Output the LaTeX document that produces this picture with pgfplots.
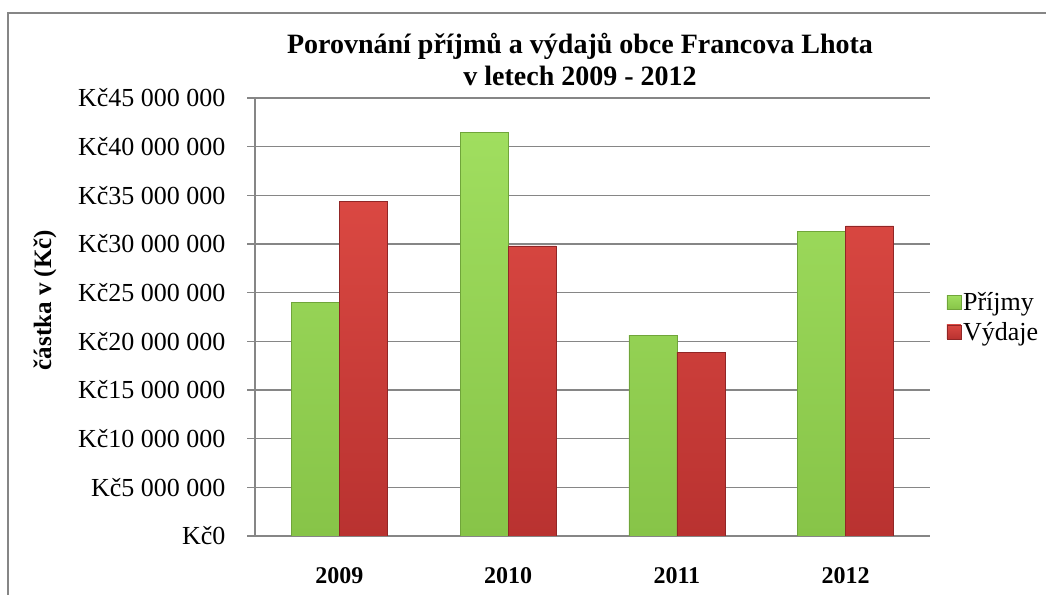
\documentclass[border=0pt]{standalone}
\usepackage{fontspec}
\setmainfont{Liberation Serif}
\usepackage{pgfplots}
\pgfplotsset{compat=1.18}
\definecolor{gridgray}{RGB}{134,134,134}
\definecolor{grnT}{RGB}{160,222,95}
\definecolor{grnB}{RGB}{135,196,72}
\definecolor{grnE}{RGB}{112,165,58}
\definecolor{redT}{RGB}{218,72,66}
\definecolor{redB}{RGB}{185,50,48}
\definecolor{redE}{RGB}{145,38,38}
\begin{document}
\begin{tikzpicture}[x=1pt,y=1pt]
\useasboundingbox (0,0) rectangle (1046,594);
\clip (0,0) rectangle (1046,594);
\draw[gridgray, line width=1.2pt] (8,-20) rectangle (1100,581);
\node[font=\bfseries\fontsize{28}{32}\selectfont, align=center] at (580,534) {Porovnání příjmů a výdajů obce Francova Lhota\\v letech 2009 - 2012};
\node[font=\bfseries\fontsize{25}{30}\selectfont, rotate=90] at (45,294) {částka v (Kč)};
\begin{axis}[at={(255pt,58pt)}, anchor=south west, scale only axis,
  width=675pt, height=438pt,
  ybar=0pt, bar width=48pt,
  xmin=-0.5, xmax=3.5, ymin=0, ymax=45000000,
  xtick={0,1,2,3}, xticklabels={2009,2010,2011,2012},
  ytick={0,5000000,10000000,15000000,20000000,25000000,30000000,35000000,40000000,45000000},
  yticklabels={Kč0,Kč5 000 000,Kč10 000 000,Kč15 000 000,Kč20 000 000,Kč25 000 000,Kč30 000 000,Kč35 000 000,Kč40 000 000,Kč45 000 000},
  scaled y ticks=false,
  axis x line*=bottom, axis y line*=left,
  axis line style={gridgray, line width=1.2pt, -},
  ymajorgrids, grid style={gridgray, line width=1.2pt},
  xtick style={draw=none},
  ytick style={gridgray, line width=1.2pt},
  tick align=outside, major tick length=8pt,
  yticklabel style={font=\fontsize{26}{30}\selectfont, xshift=-18pt},
  xticklabel style={font=\bfseries\fontsize{24}{28}\selectfont, yshift=-20pt},
  legend style={draw=none, fill=none, at={(1.02,0.5)}, anchor=west,
    font=\fontsize{26}{30}\selectfont, row sep=6pt},
  legend cell align=left,
  legend image code/.code={\draw[#1] (0pt,-7pt) rectangle (14pt,7pt);},
]
\addplot[draw=grnE, top color=grnT, bottom color=grnB] coordinates {(0,24000000) (1,41500000) (2,20650000) (3,31300000)};
\addplot[draw=redE, top color=redT, bottom color=redB] coordinates {(0,34400000) (1,29800000) (2,18900000) (3,31850000)};
\legend{Příjmy,Výdaje}
\end{axis}
\end{tikzpicture}
\end{document}
